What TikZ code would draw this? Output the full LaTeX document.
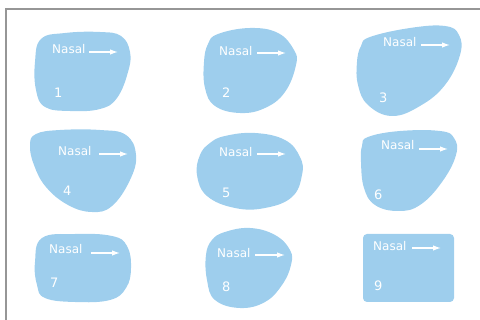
\documentclass[tikz,border=0pt]{standalone}
\usepackage{fontspec}
\setmainfont{DejaVu Sans}
\usetikzlibrary{arrows.meta}
\definecolor{blobblue}{RGB}{158,206,237}
\definecolor{framegray}{RGB}{150,150,150}

\begin{document}
\begin{tikzpicture}[x=1pt, y=-1pt, >={Latex[length=8pt,width=5.5pt]},
  blob/.style={fill=blobblue},
  nasal/.style={anchor=base west, inner sep=0pt, text=white, font=\fontsize{12}{12}\selectfont},
  num/.style={anchor=base west, inner sep=0pt, text=white, font=\fontsize{13}{13}\selectfont},
  pointer/.style={draw=white, line width=1.2pt, ->}]
  \useasboundingbox (0,0) rectangle (480,320);
  % Frame
  \draw[framegray, line width=1.5pt] (6,320) -- (6,9) -- (480,9);

  % Shapes
  \fill[blob] plot[smooth cycle, tension=0.7] coordinates {(41,39) (65,33) (100,32) (121,36) (130,52) (128,72) (117,98) (100,109) (70,111) (45,107) (36,90) (35,62)};
  \fill[blob] plot[smooth cycle, tension=0.7] coordinates {(218,34) (250,28) (278,33) (294,50) (296,65) (285,92) (265,108) (240,113) (215,106) (205,88) (204,62) (208,44)};
  \fill[blob] plot[smooth cycle, tension=0.7] coordinates {(370,37) (410,28) (445,26) (459,35) (460,55) (445,85) (420,106) (392,116) (368,105) (358,85) (357,62) (361,46)};
  \fill[blob] plot[smooth cycle, tension=0.7] coordinates {(36,134) (60,130) (100,130) (126,135) (136,155) (130,180) (112,206) (92,212) (68,205) (46,187) (34,165) (30,145)};
  \fill[blob] plot[smooth cycle, tension=0.7] coordinates {(225,136) (255,133) (285,140) (300,157) (302,175) (292,197) (265,208) (235,208) (207,196) (197,175) (200,155) (210,143)};
  \fill[blob] plot[smooth cycle, tension=0.7] coordinates {(368,137) (400,131) (440,131) (454,138) (456,155) (442,182) (420,205) (398,211) (375,205) (364,188) (361,162) (362,146)};
  \fill[blob] plot[smooth cycle, tension=0.7] coordinates {(42,238) (75,234) (112,236) (127,246) (131,268) (126,288) (110,300) (75,302) (45,298) (37,285) (35,262)};
  \fill[blob] plot[smooth cycle, tension=0.7] coordinates {(225,232) (250,228) (275,235) (290,250) (291,265) (282,285) (265,302) (240,308) (215,300) (207,280) (206,255) (212,240)};
  \fill[blob, rounded corners=4pt] (363,234) rectangle (454,302);

  % Labels
  \node[nasal] (nasal1) at (52,54) {Nasal};
  \node[nasal] (nasal2) at (219,56) {Nasal};
  \node[nasal] (nasal3) at (383,47) {Nasal};
  \node[nasal] (nasal4) at (58,156) {Nasal};
  \node[nasal] (nasal5) at (219,157) {Nasal};
  \node[nasal] (nasal6) at (381,150) {Nasal};
  \node[nasal] (nasal7) at (49,254) {Nasal};
  \node[nasal] (nasal8) at (217,258) {Nasal};
  \node[nasal] (nasal9) at (373,251) {Nasal};

  \node[num] (num1) at (54,98) {1};
  \node[num] (num2) at (222,98) {2};
  \node[num] (num3) at (379,103) {3};
  \node[num] (num4) at (63,196) {4};
  \node[num] (num5) at (222,198) {5};
  \node[num] (num6) at (374,200) {6};
  \node[num] (num7) at (50,288) {7};
  \node[num] (num8) at (222,292) {8};
  \node[num] (num9) at (374,291) {9};

  % Arrows
  \coordinate (from1) at (89,52);   \coordinate (to1) at (118,52);
  \coordinate (from2) at (257,53);  \coordinate (to2) at (286,53);
  \coordinate (from3) at (421,45);  \coordinate (to3) at (450,45);
  \coordinate (from4) at (99,154);  \coordinate (to4) at (128,154);
  \coordinate (from5) at (257,154); \coordinate (to5) at (286,154);
  \coordinate (from6) at (419,149); \coordinate (to6) at (448,149);
  \coordinate (from7) at (91,253);  \coordinate (to7) at (120,253);
  \coordinate (from8) at (255,255); \coordinate (to8) at (285,255);
  \coordinate (from9) at (412,248); \coordinate (to9) at (441,248);
  \draw[pointer] (from1) -- (to1);
  \draw[pointer] (from2) -- (to2);
  \draw[pointer] (from3) -- (to3);
  \draw[pointer] (from4) -- (to4);
  \draw[pointer] (from5) -- (to5);
  \draw[pointer] (from6) -- (to6);
  \draw[pointer] (from7) -- (to7);
  \draw[pointer] (from8) -- (to8);
  \draw[pointer] (from9) -- (to9);
\end{tikzpicture}
\end{document}
